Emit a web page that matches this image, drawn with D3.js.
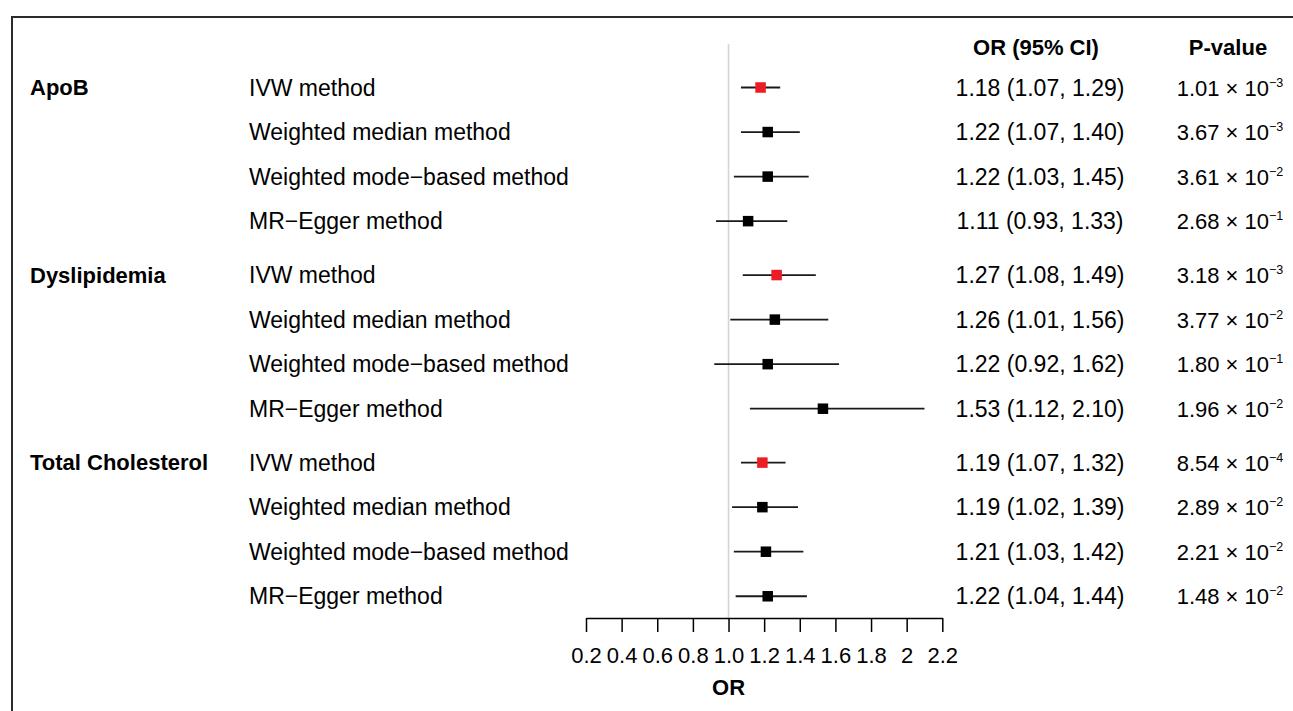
<!DOCTYPE html>
<html>
<head>
<meta charset="UTF-8">
<script src="https://cdn.jsdelivr.net/npm/d3@7"></script>
<style>
    body { margin: 0; background: #fff; }
    svg text { font-family: "Liberation Sans", Arial, Helvetica, sans-serif; fill: #000; }
</style>
</head>
<body>
<svg width="1293" height="711"></svg>
<script>
    // data
    var groups = ["ApoB", "Dyslipidemia", "Total Cholesterol"];
    var methods = ["IVW method", "Weighted median method", "Weighted mode\u2212based method", "MR\u2212Egger method"];
    var orVal = [1.18, 1.22, 1.22, 1.11, 1.27, 1.26, 1.22, 1.53, 1.19, 1.19, 1.21, 1.22];
    var ciLow = [1.07, 1.07, 1.03, 0.93, 1.08, 1.01, 0.92, 1.12, 1.07, 1.02, 1.03, 1.04];
    var ciHigh = [1.29, 1.40, 1.45, 1.33, 1.49, 1.56, 1.62, 2.10, 1.32, 1.39, 1.42, 1.44];
    var pMant = ["1.01", "3.67", "3.61", "2.68", "3.18", "3.77", "1.80", "1.96", "8.54", "2.89", "2.21", "1.48"];
    var pExp = ["\u22123", "\u22123", "\u22122", "\u22121", "\u22123", "\u22122", "\u22121", "\u22122", "\u22124", "\u22122", "\u22122", "\u22122"];
    var tickVals = [0.2, 0.4, 0.6, 0.8, 1.0, 1.2, 1.4, 1.6, 1.8, 2.0, 2.2];
    var tickLabels = ["0.2", "0.4", "0.6", "0.8", "1.0", "1.2", "1.4", "1.6", "1.8", "2", "2.2"];

    var fs = 23, fsBold = 22;
    var svg = d3.select("svg");

    // outer frame (cut off at right and bottom)
    svg.append("rect")
        .attr("x", 12).attr("y", 17)
        .attr("width", 1400).attr("height", 800)
        .attr("fill", "none")
        .attr("stroke", "#2b2b2b")
        .attr("stroke-width", 2);

    var rows = [];
    groups.forEach(function(g, gi) {
        methods.forEach(function(m, mi) {
            rows.push({ group: g, gi: gi, method: m, mi: mi, pos: gi * 4.21 + mi });
        });
    });
    rows.forEach(function(d, i) {
        d.or = orVal[i]; d.lo = ciLow[i]; d.hi = ciHigh[i];
        d.pm = pMant[i]; d.pe = pExp[i];
    });

    var x = d3.scaleLinear().domain([0.2, 2.2]).range([586, 942.3]);
    var y = d3.scaleLinear().domain([0, 1]).range([87.5, 132.05]);
    var axisY = 618;

    // reference line at OR = 1
    svg.append("line")
        .attr("x1", x(1)).attr("x2", x(1))
        .attr("y1", 44).attr("y2", axisY)
        .attr("stroke", "#d4d4d4")
        .attr("stroke-width", 1.6);

    // headers
    svg.append("text").attr("x", 1036).attr("y", 55)
        .attr("text-anchor", "middle").attr("font-weight", "bold").attr("font-size", fsBold)
        .text("OR (95% CI)");
    svg.append("text").attr("x", 1228).attr("y", 55)
        .attr("text-anchor", "middle").attr("font-weight", "bold").attr("font-size", fsBold)
        .text("P-value");

    // group labels
    svg.selectAll(".grp")
        .data(rows.filter(function(d) { return d.mi === 0; }))
        .enter().append("text")
        .attr("class", "grp")
        .attr("x", 30)
        .attr("y", function(d) { return y(d.pos) + 7.5; })
        .attr("font-weight", "bold").attr("font-size", fsBold)
        .text(function(d) { return d.group; });

    // method labels
    svg.selectAll(".meth")
        .data(rows).enter().append("text")
        .attr("class", "meth")
        .attr("x", 249)
        .attr("y", function(d) { return y(d.pos) + 8; })
        .attr("font-size", fs)
        .text(function(d) { return d.method; });

    // CI lines
    svg.selectAll(".ci")
        .data(rows).enter().append("line")
        .attr("class", "ci")
        .attr("x1", function(d) { return x(d.lo); })
        .attr("x2", function(d) { return x(d.hi); })
        .attr("y1", function(d) { return y(d.pos); })
        .attr("y2", function(d) { return y(d.pos); })
        .attr("stroke", "#1a1a1a")
        .attr("stroke-width", 1.8);

    // point estimates
    var sq = 10.5;
    svg.selectAll(".pt")
        .data(rows).enter().append("rect")
        .attr("class", "pt")
        .attr("x", function(d) { return x(d.or) - sq / 2; })
        .attr("y", function(d) { return y(d.pos) - sq / 2; })
        .attr("width", sq).attr("height", sq)
        .attr("fill", function(d) { return d.mi === 0 ? "#ec1c24" : "#000"; });

    // OR (95% CI) column
    var f2 = d3.format(".2f");
    svg.selectAll(".orTxt")
        .data(rows).enter().append("text")
        .attr("class", "orTxt")
        .attr("x", 1040)
        .attr("y", function(d) { return y(d.pos) + 8; })
        .attr("text-anchor", "middle").attr("font-size", fs)
        .text(function(d) { return f2(d.or) + " (" + f2(d.lo) + ", " + f2(d.hi) + ")"; });

    // P-value column
    var pt = svg.selectAll(".pTxt")
        .data(rows).enter().append("text")
        .attr("class", "pTxt")
        .attr("x", 1230)
        .attr("y", function(d) { return y(d.pos) + 8; })
        .attr("text-anchor", "middle").attr("font-size", 22);
    pt.append("tspan").text(function(d) { return d.pm + " \u00d7 10"; });
    pt.append("tspan")
        .attr("dy", -9)
        .attr("font-size", 12.5)
        .text(function(d) { return d.pe; });

    // x axis
    var axis = svg.append("g")
        .attr("transform", "translate(0," + axisY + ")")
        .call(d3.axisBottom(x)
            .tickValues(tickVals)
            .tickFormat(function(d, i) { return tickLabels[i]; })
            .tickSize(14)
            .tickSizeOuter(0)
            .tickPadding(15));
    axis.select(".domain").attr("stroke", "#000").attr("stroke-width", 1.5);
    axis.selectAll(".tick line").attr("stroke", "#000").attr("stroke-width", 1.5);
    axis.selectAll(".tick text")
        .attr("font-size", 22)
        .attr("font-family", "Liberation Sans, Arial, sans-serif")
        .attr("fill", "#000");

    svg.append("text")
        .attr("x", x(1)).attr("y", 695)
        .attr("text-anchor", "middle").attr("font-weight", "bold").attr("font-size", fsBold)
        .text("OR");
</script>
</body>
</html>
